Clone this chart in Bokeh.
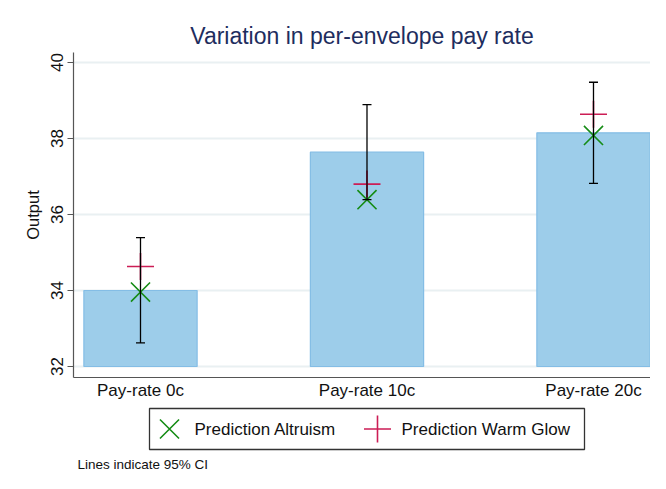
from bokeh.plotting import figure
from bokeh.models import Range1d, FixedTicker, ColumnDataSource, Whisker, TeeHead
from bokeh.layouts import column
from bokeh.embed import file_html
from bokeh.resources import INLINE
from bokeh.core.properties import value

# ---------------- data ----------------
categories = ["Pay-rate 0c", "Pay-rate 10c", "Pay-rate 20c"]
mean_output = [34.00, 37.64, 38.15]
ci_lower = [32.62, 36.39, 36.82]
ci_upper = [35.39, 38.89, 39.48]
pred_altruism = [33.96, 36.39, 38.08]
pred_warm_glow = [34.63, 36.80, 38.64]
y_ticks = [32, 34, 36, 38, 40]
bar_base = 32
legend_labels = ["Prediction Altruism", "Prediction Warm Glow"]
title_text = "Variation in per-envelope pay rate"
y_label = "Output"
note_text = "Lines indicate 95% CI"

# ---------------- style ----------------
FONT = "Liberation Sans"
BAR_FILL = "#9dcdea"
BAR_LINE = "#84bde5"
GREEN = "#158c15"
CRIMSON = "#cc1d55"
TITLE_COLOR = "#1e2d5e"
AXIS_COLOR = "#555555"
GRID_COLOR = "#e9f0f2"

W = 650
MAIN_H = 402
LEG_H = 71
FRAME_L = 73

xpos = list(range(1, len(categories) + 1))
src = ColumnDataSource(dict(x=xpos, top=mean_output, lower=ci_lower, upper=ci_upper,
                            alt=pred_altruism, warm=pred_warm_glow))

p = figure(width=W, height=MAIN_H, output_backend="svg", toolbar_location=None,
           x_range=Range1d(0.7042, 3.2517), y_range=Range1d(31.711, 40.263),
           min_border_left=FRAME_L, min_border_right=0, min_border_top=52, min_border_bottom=25)
p.outline_line_color = None
p.background_fill_color = "white"
p.border_fill_color = "white"

# title
p.title.text = title_text
p.title.align = "center"
p.title.offset = 4
p.title.text_font = FONT
p.title.text_font_size = "23px"
p.title.text_font_style = "normal"
p.title.text_color = TITLE_COLOR
p.title.standoff = 7

# grid
p.xgrid.visible = False
p.ygrid.ticker = FixedTicker(ticks=y_ticks)
p.ygrid.grid_line_color = GRID_COLOR
p.ygrid.grid_line_width = 2

# x axis
p.xaxis.ticker = FixedTicker(ticks=xpos)
p.xaxis.major_label_overrides = {x: c for x, c in zip(xpos, categories)}
p.xaxis.major_tick_out = 0
p.xaxis.major_tick_in = 0
p.xaxis.minor_tick_out = 0
p.xaxis.minor_tick_in = 0
p.xaxis.axis_line_color = AXIS_COLOR
p.xaxis.axis_line_width = 1.2
p.xaxis.major_label_standoff = 3
p.xaxis.major_label_text_font = FONT
p.xaxis.major_label_text_font_size = "17px"
p.xaxis.major_label_text_color = "#111111"

# y axis
p.yaxis.ticker = FixedTicker(ticks=y_ticks)
p.yaxis.major_label_orientation = "vertical"
p.yaxis.major_tick_out = 6
p.yaxis.major_tick_in = 0
p.yaxis.minor_tick_out = 0
p.yaxis.minor_tick_in = 0
p.yaxis.axis_line_color = AXIS_COLOR
p.yaxis.axis_line_width = 1.2
p.yaxis.major_tick_line_color = AXIS_COLOR
p.yaxis.major_tick_line_width = 1.2
p.yaxis.major_label_standoff = 4
p.yaxis.major_label_text_font = FONT
p.yaxis.major_label_text_font_size = "17px"
p.yaxis.major_label_text_color = "#111111"
p.yaxis.axis_label = y_label
p.yaxis.axis_label_text_font = FONT
p.yaxis.axis_label_text_font_size = "16.5px"
p.yaxis.axis_label_text_font_style = "normal"
p.yaxis.axis_label_text_color = "#111111"
p.yaxis.axis_label_standoff = 7

# bars
p.vbar(x="x", top="top", bottom=bar_base, width=0.5, source=src,
       fill_color=BAR_FILL, line_color=BAR_LINE, line_width=1.2)

# CI whiskers
w = Whisker(base="x", upper="upper", lower="lower", source=src,
            line_color="black", line_width=1.3, level="glyph",
            upper_head=TeeHead(size=9, line_color="black", line_width=1.3),
            lower_head=TeeHead(size=9, line_color="black", line_width=1.3))
p.add_layout(w)

# predictions
p.scatter(x="x", y="warm", source=src, marker="cross", size=27,
          line_color=CRIMSON, line_width=1.6)
p.scatter(x="x", y="alt", source=src, marker="x", size=27,
          line_color=GREEN, line_width=1.6)

# ---------------- legend + note panel (pixel coordinates of the page) ----------------
q = figure(width=W, height=LEG_H, output_backend="svg", toolbar_location=None,
           x_range=Range1d(FRAME_L, W), y_range=Range1d(MAIN_H + LEG_H, MAIN_H),
           x_axis_type=None, y_axis_type=None,
           min_border_left=FRAME_L, min_border_right=0, min_border_top=0, min_border_bottom=0)
q.outline_line_color = None
q.xgrid.visible = False
q.ygrid.visible = False
q.background_fill_color = "white"
q.border_fill_color = "white"

box_left, box_right, box_top, box_bottom = 149, 584, 408, 449
mid_y = (box_top + box_bottom) / 2
q.quad(left=[box_left], right=[box_right], top=[box_top], bottom=[box_bottom],
       fill_color=None, line_color="#333333", line_width=1.3)
q.scatter(x=[169], y=[mid_y], marker="x", size=27, line_color=GREEN, line_width=1.6)
q.scatter(x=[377], y=[mid_y], marker="cross", size=27, line_color=CRIMSON, line_width=1.6)
q.text(x=[194, 401], y=[mid_y, mid_y], text=legend_labels,
       text_font=value(FONT), text_font_size="17px", text_color="#111111",
       text_baseline="middle", text_align="left")
q.text(x=[77], y=[464], text=[note_text],
       text_font=value(FONT), text_font_size="13.5px", text_color="#111111",
       text_baseline="middle", text_align="left")

layout = column(p, q, spacing=0)
open("out.html", "w").write(file_html(layout, INLINE))
